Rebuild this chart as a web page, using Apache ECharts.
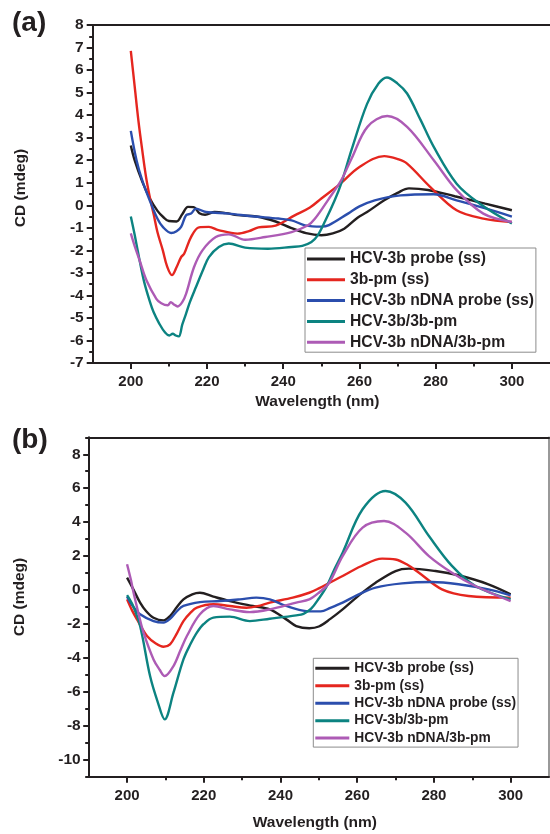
<!DOCTYPE html>
<html><head><meta charset="utf-8">
<script src="https://cdn.jsdelivr.net/npm/echarts@6/dist/echarts.min.js"></script>
<style>html,body{margin:0;padding:0;background:#fff}#c{width:550px;height:834px}</style>
</head><body><div id="c"></div>
<script>
// ---------- names / colours ----------
const seriesNames = ['HCV-3b probe (ss)', '3b-pm (ss)', 'HCV-3b nDNA probe (ss)', 'HCV-3b/3b-pm', 'HCV-3b nDNA/3b-pm'];
const seriesColors = ['#231f20', '#e5261f', '#2b4ead', '#0c8381', '#ad5bb5'];

// ---------- axis ticks ----------
const xMajorTicks = [200, 220, 240, 260, 280, 300];
const xMinorTicks = [210, 230, 250, 270, 290];
const yMajorTicksB = [-10, -8, -6, -4, -2, 0, 2, 4, 6, 8];
const yMinorTicksB = [-11, -9, -7, -5, -3, -1, 1, 3, 5, 7, 9];

// ---------- panel (a) data [wavelength nm, CD mdeg] ----------
const a_probe = [[200,2.65],[201,2.0],[203,1.05],[205,0.3],[207,-0.25],[208.5,-0.52],[210,-0.7],[212,-0.72],[213.5,-0.4],[215,-0.07],[216.5,-0.08],[218,-0.35],[219.5,-0.42],[222,-0.3],[225,-0.35],[228,-0.44],[233,-0.5],[238,-0.72],[242,-1.0],[246,-1.24],[250,-1.33],[253,-1.25],[256,-1.04],[259.5,-0.55],[262,-0.3],[266.5,0.22],[270,0.55],[273,0.75],[278,0.68],[285,0.4],[290,0.2],[293,0.07],[300,-0.22]];
const a_pm = [[200,6.85],[201,5.3],[202,3.75],[203,2.45],[204,1.25],[205,0.35],[206,-0.4],[207,-1.2],[208.4,-2.0],[209.5,-2.7],[210.8,-3.1],[212,-2.75],[213.2,-2.3],[214,-2.15],[215.8,-1.41],[217.9,-0.98],[220.5,-0.96],[223,-1.1],[228,-1.26],[231,-1.15],[233.5,-0.98],[238,-0.9],[243,-0.45],[247,-0.1],[250,0.3],[255,0.96],[260,1.7],[266.5,2.18],[270,2.05],[272.5,1.85],[278.6,0.81],[285.5,-0.22],[292.5,-0.59],[300,-0.74]];
const a_ndna = [[200,3.3],[201.5,2.0],[203,1.1],[205,0.2],[207,-0.6],[208.4,-0.96],[210.6,-1.23],[212,-1.15],[213.2,-0.96],[214.5,-0.44],[215.8,-0.37],[217.1,-0.15],[219.7,-0.3],[225.7,-0.37],[231.8,-0.49],[238.7,-0.59],[242.2,-0.67],[245.7,-0.89],[250,-0.95],[252,-0.88],[257,-0.37],[260,-0.05],[264,0.22],[270.8,0.44],[279.5,0.49],[285.5,0.22],[293.3,-0.15],[300,-0.5]];
const a_hyb = [[200,-0.5],[201,-1.3],[202.3,-2.44],[203.5,-3.4],[204.9,-4.22],[206,-4.75],[207.5,-5.26],[209,-5.65],[210.1,-5.78],[211,-5.7],[211.8,-5.78],[212.6,-5.82],[213.5,-5.3],[214.5,-4.81],[215.5,-4.3],[217.1,-3.63],[219,-2.85],[220.5,-2.3],[223.1,-1.85],[225.7,-1.7],[230,-1.88],[236,-1.93],[242.2,-1.85],[245,-1.8],[247.4,-1.63],[249,-1.35],[251,-0.7],[253.5,0.22],[255.2,0.96],[258,2.5],[262,4.5],[265,5.4],[267.2,5.67],[270,5.4],[272.5,4.96],[276,3.8],[279.5,2.59],[285.5,0.96],[291.6,0.07],[300,-0.81]];
const a_ndnaHyb = [[200,-1.25],[201,-1.8],[202.3,-2.44],[204.1,-3.33],[206.7,-4.15],[208,-4.35],[209.7,-4.44],[210.5,-4.3],[211.3,-4.4],[212.3,-4.49],[213.5,-4.3],[214.5,-3.93],[216.6,-2.74],[218.8,-2.0],[222.3,-1.41],[225.7,-1.29],[230,-1.53],[235.3,-1.41],[242.2,-1.19],[246.5,-0.89],[248.3,-0.6],[251.7,0.22],[255.2,1.11],[258,2.1],[262.1,3.48],[267.3,3.96],[272.5,3.48],[279.5,2.0],[285.5,0.67],[292.5,-0.37],[300,-0.74]];

// ---------- panel (b) data ----------
const b_probe = [[200,0.73],[201.5,0.1],[203.4,-0.74],[205,-1.25],[206.9,-1.63],[209.5,-1.79],[211.2,-1.53],[213,-1.0],[214.7,-0.55],[217,-0.25],[219,-0.16],[222.5,-0.39],[226.8,-0.65],[232.8,-0.94],[237.2,-1.14],[241.5,-1.73],[244.1,-2.12],[247.5,-2.25],[250,-2.15],[253,-1.7],[256.2,-1.14],[260,-0.4],[264.8,0.43],[270,1.12],[273.5,1.26],[280.4,1.12],[286.4,0.87],[294.2,0.34],[300,-0.25]];
const b_pm = [[200,-0.55],[201.3,-1.2],[202.6,-1.73],[205.2,-2.71],[207.5,-3.15],[209.5,-3.34],[211.2,-3.2],[213,-2.55],[214.7,-1.83],[216.5,-1.35],[218.2,-1.04],[222.5,-0.84],[226.8,-0.94],[231.1,-1.04],[234,-0.95],[237.2,-0.74],[243.2,-0.45],[247.5,-0.16],[250,0.1],[256.2,0.83],[261,1.4],[266.5,1.85],[270,1.8],[273,1.5],[276.1,1.02],[282.1,0.04],[289,-0.35],[300,-0.45]];
const b_ndna = [[200,-0.39],[201.5,-0.95],[203.4,-1.43],[206.9,-1.83],[209.5,-1.92],[211.2,-1.7],[213,-1.25],[214.7,-0.94],[219,-0.71],[224.2,-0.65],[229.4,-0.55],[233.7,-0.45],[237.2,-0.55],[241.5,-0.94],[246.7,-1.24],[250.5,-1.26],[253,-1.05],[256.2,-0.74],[260,-0.3],[264.8,0.14],[271.7,0.39],[279.5,0.47],[286.4,0.34],[294.2,0.04],[300,-0.31]];
const b_hyb = [[200,-0.3],[201.5,-0.9],[203.4,-2.12],[206,-5.07],[208,-6.6],[209.8,-7.62],[212.1,-6.05],[214.7,-4.09],[216.5,-3.2],[218.2,-2.51],[220,-2.0],[222.5,-1.63],[226.8,-1.57],[232,-1.83],[237.2,-1.69],[244.1,-1.49],[246,-1.4],[248,-1.1],[250,-0.5],[252,0.2],[254,1.2],[256.2,2.2],[261.4,4.76],[267.4,5.84],[272.6,5.15],[278.7,3.18],[284.7,1.42],[290.8,0.24],[300,-0.55]];
const b_ndnaHyb = [[200,1.52],[201,0.6],[201.7,-0.16],[203,-1.4],[204.3,-2.51],[206.9,-4.09],[208.5,-4.7],[209.8,-5.07],[212.1,-4.48],[214,-3.5],[215.6,-2.71],[219,-1.43],[222.5,-0.94],[226.8,-1.14],[232,-1.3],[237.2,-1.14],[244.1,-0.74],[247.5,-0.55],[250,-0.16],[252.7,0.43],[256.2,2.0],[261.4,3.68],[267,4.07],[272.6,3.38],[278.7,2.0],[284.7,1.02],[290.8,0.24],[300,-0.65]];

const panelA = [a_probe, a_pm, a_ndna, a_hyb, a_ndnaHyb];
const panelB = [b_probe, b_pm, b_ndna, b_hyb, b_ndnaHyb];

// ---------- styling ----------
const FF = '"Liberation Sans", Arial, sans-serif';
const INK = '#231f20';
const lbl = (size) => ({ fontFamily: FF, fontWeight: 'bold', fontSize: size, color: INK });

function mainX(grid, margin, nameGap) {
  return {
    gridIndex: grid, type: 'value', min: 190, max: 310, position: 'bottom',
    axisLine: { show: true, onZero: false, lineStyle: { color: INK, width: 2 } },
    axisTick: { show: true, customValues: xMajorTicks, length: 6, lineStyle: { color: INK, width: 2 } },
    axisLabel: Object.assign({ customValues: xMajorTicks, margin: margin }, lbl(15)),
    splitLine: { show: false },
    name: 'Wavelength (nm)', nameLocation: 'middle', nameGap: nameGap,
    nameTextStyle: Object.assign({ padding: [0, 8, 0, 0] }, lbl(15.5))
  };
}
function minorX(grid) {
  return {
    gridIndex: grid, type: 'value', min: 190, max: 310, position: 'bottom',
    axisLine: { show: false, onZero: false },
    axisTick: { show: true, customValues: xMinorTicks, length: 3.5, lineStyle: { color: INK, width: 2 } },
    axisLabel: { show: false, customValues: xMinorTicks }, splitLine: { show: false }
  };
}
function topX(grid) {
  return {
    gridIndex: grid, type: 'value', min: 190, max: 310, position: 'top',
    axisLine: { show: true, onZero: false, lineStyle: { color: INK, width: 2 } },
    axisTick: { show: false }, axisLabel: { show: false }, splitLine: { show: false }
  };
}

const option = {
  animation: false,
  backgroundColor: '#fff',
  title: [
    { text: '(a)', left: 12, top: 9, padding: 0, textStyle: lbl(28) },
    { text: '(b)', left: 12, top: 426, padding: 0, textStyle: lbl(28) }
  ],
  grid: [
    { left: 92.7, top: 25, width: 461.3, height: 338 },
    { left: 88.7, top: 437.3, width: 460.3, height: 339.4 }
  ],
  xAxis: [
    mainX(0, 11, 31), minorX(0), topX(0),
    mainX(1, 12, 38.5), minorX(1), topX(1)
  ],
  yAxis: [
    {
      gridIndex: 0, type: 'value', min: -7, max: 8, interval: 1, position: 'left',
      axisLine: { show: true, onZero: false, lineStyle: { color: INK, width: 2 } },
      axisTick: { show: true, length: 6, lineStyle: { color: INK, width: 2 } },
      minorTick: { show: true, splitNumber: 2, length: 3.5, lineStyle: { color: INK, width: 2 } },
      axisLabel: Object.assign({ margin: 9 }, lbl(15.5)),
      splitLine: { show: false }, minorSplitLine: { show: false },
      name: 'CD (mdeg)', nameLocation: 'middle', nameRotate: 90, nameGap: 64,
      nameTextStyle: Object.assign({ padding: [0, 0, 0, 12] }, lbl(15.5))
    },
    {
      gridIndex: 1, type: 'value', min: -11, max: 9, position: 'left',
      axisLine: { show: true, onZero: false, lineStyle: { color: INK, width: 2 } },
      axisTick: { show: true, customValues: yMajorTicksB, length: 5.5, lineStyle: { color: INK, width: 2 } },
      axisLabel: Object.assign({ customValues: yMajorTicksB, margin: 8 }, lbl(15.5)),
      splitLine: { show: false },
      name: 'CD (mdeg)', nameLocation: 'middle', nameRotate: 90, nameGap: 61,
      nameTextStyle: Object.assign({ padding: [0, 0, 0, 20] }, lbl(15.5))
    },
    {
      gridIndex: 1, type: 'value', min: -11, max: 9, position: 'left',
      axisLine: { show: false, onZero: false },
      axisTick: { show: true, customValues: yMinorTicksB, length: 3.5, lineStyle: { color: INK, width: 2 } },
      axisLabel: { show: false, customValues: yMinorTicksB }, splitLine: { show: false }
    },
    {
      gridIndex: 1, type: 'value', min: -11, max: 9, position: 'right',
      axisLine: { show: true, onZero: false, lineStyle: { color: '#777', width: 1.5 } },
      axisTick: { show: false }, axisLabel: { show: false }, splitLine: { show: false }
    }
  ],
  legend: [
    {
      orient: 'vertical', left: 305, top: 248, icon: 'rect', itemWidth: 38, itemHeight: 3, itemGap: 4.8,
      padding: [3, 2, 2, 2], borderColor: '#8c8c8c', borderWidth: 1, selectedMode: false,
      textStyle: lbl(15.7), data: seriesNames
    },
    {
      orient: 'vertical', left: 313.3, top: 658.3, icon: 'rect', itemWidth: 34, itemHeight: 3, itemGap: 3.45,
      padding: [3, 2, 2, 2], borderColor: '#8c8c8c', borderWidth: 1, selectedMode: false,
      textStyle: lbl(13.8), data: seriesNames
    }
  ],
  series: []
};

panelA.forEach((d, i) => option.series.push({
  name: seriesNames[i], type: 'line', xAxisIndex: 0, yAxisIndex: 0, data: d,
  smooth: 0.35, symbol: 'none', showSymbol: false, color: seriesColors[i],
  lineStyle: { width: 2.4, color: seriesColors[i] }
}));
panelB.forEach((d, i) => option.series.push({
  name: seriesNames[i], type: 'line', xAxisIndex: 3, yAxisIndex: 1, data: d,
  smooth: 0.35, symbol: 'none', showSymbol: false, color: seriesColors[i],
  lineStyle: { width: 2.4, color: seriesColors[i] }
}));

const chart = echarts.init(document.getElementById('c'), null, { renderer: 'canvas', width: 550, height: 834 });
chart.setOption(option);
</script>
</body></html>
